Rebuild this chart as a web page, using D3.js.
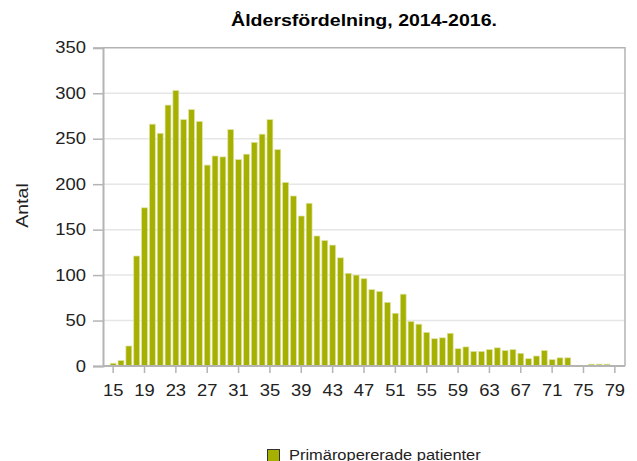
<!DOCTYPE html>
<html>
<head>
<meta charset="utf-8">
<script src="https://cdn.jsdelivr.net/npm/d3@7"></script>
<style>
  html, body { margin: 0; padding: 0; background: #fff; }
  svg { display: block; font-family: "Liberation Sans", Arial, sans-serif; }
</style>
</head>
<body>
<svg id="chart" width="637" height="461"></svg>
<script>
// ---- data ----
const title = "Åldersfördelning, 2014-2016.";
const yAxisLabel = "Antal";
const seriesName = "Primäropererade patienter";
const ages = [15,16,17,18,19,20,21,22,23,24,25,26,27,28,29,30,31,32,33,34,35,36,37,38,39,40,41,42,43,44,45,46,47,48,49,50,51,52,53,54,55,56,57,58,59,60,61,62,63,64,65,66,67,68,69,70,71,72,73,74,75,76,77,78,79];
const counts = [3,6,22,121,174,266,256,287,303,271,282,269,221,231,230,260,227,233,246,255,271,238,202,187,165,179,143,138,133,119,102,100,96,84,82,70,58,79,49,46,37,30,31,36,19,21,16,16,18,20,17,18,14,8,11,17,7,9,9,0,0,2,2,2,0];
const xTickAges = [15,19,23,27,31,35,39,43,47,51,55,59,63,67,71,75,79];
const yTicks = [0,50,100,150,200,250,300,350];

// ---- styles ----
const barColor = "#a6b000";
const barEdge = "#dfe3a4";
const frameColor = "#b4b4b4";
const gridColor = "#e6e6e6";
const textColor = "#222";
const sx = 1.15; // horizontal text widening

const svg = d3.select("#chart");
const m = { left: 103, right: 625, top: 47.8, bottom: 366 };

const x = d3.scaleBand().domain(ages).range([m.left, m.right])
  .paddingInner(0.25).paddingOuter(0.92);
const y = d3.scaleLinear().domain([0, 350]).range([m.bottom, m.top]);

// gridlines
svg.append("g").selectAll("line").data(yTicks.filter(d => d > 0 && d < 350)).join("line")
  .attr("x1", m.left).attr("x2", m.right)
  .attr("y1", d => y(d)).attr("y2", d => y(d))
  .attr("stroke", gridColor).attr("stroke-width", 1.5);

// frame top/right
svg.append("path")
  .attr("d", `M${m.left},${y(350)}H${m.right}V${m.bottom}`)
  .attr("fill", "none").attr("stroke", frameColor).attr("stroke-width", 1.5);

// bars
svg.append("g").selectAll("rect").data(ages.map((a, i) => ({ a, v: counts[i] })).filter(d => d.v > 0)).join("rect")
  .attr("x", d => x(d.a)).attr("width", x.bandwidth())
  .attr("y", d => y(d.v)).attr("height", d => y(0) - y(d.v))
  .attr("fill", barColor).attr("stroke", barEdge).attr("stroke-width", 0.7);

// y axis
const yAxis = svg.append("g").attr("transform", `translate(${m.left},0)`)
  .call(d3.axisLeft(y).tickValues(yTicks).tickSize(10).tickPadding(7));
yAxis.select(".domain").attr("stroke", frameColor).attr("stroke-width", 2);
yAxis.selectAll(".tick line").attr("stroke", frameColor).attr("stroke-width", 1.5);
yAxis.selectAll(".tick text").each(function() {
  const t = d3.select(this);
  const xx = +t.attr("x");
  t.attr("x", 0).attr("transform", `translate(${xx},0) scale(${sx},1)`);
}).attr("font-size", 16).attr("fill", textColor).attr("font-family", "Liberation Sans, Arial, sans-serif");

// x axis
const xAxis = svg.append("g").attr("transform", `translate(0,${m.bottom})`)
  .call(d3.axisBottom(x).tickValues(xTickAges).tickSize(7).tickPadding(5).tickSizeOuter(0));
xAxis.select(".domain").attr("stroke", frameColor).attr("stroke-width", 2)
  .attr("d", `M${m.left},0H${m.right}`);
xAxis.selectAll(".tick line").attr("stroke", frameColor).attr("stroke-width", 1.5);
xAxis.selectAll(".tick text").each(function() {
  const t = d3.select(this);
  const yy = +t.attr("y");
  t.attr("y", 0).attr("dy", null).attr("transform", `translate(0,30) scale(${sx},1)`);
}).attr("font-size", 16).attr("fill", textColor).attr("font-family", "Liberation Sans, Arial, sans-serif");

// title
svg.append("text")
  .attr("transform", `translate(${(m.left + m.right) / 2},26) scale(${sx},1)`)
  .attr("text-anchor", "middle").attr("font-weight", "bold").attr("font-size", 17)
  .attr("fill", "#000").text(title);

// y label
svg.append("text")
  .attr("transform", `translate(28,205.5) rotate(-90) scale(${sx},1)`)
  .attr("text-anchor", "middle").attr("font-size", 17).attr("fill", textColor)
  .text(yAxisLabel);

// legend
const lg = svg.append("g").attr("transform", "translate(267,449)");
lg.append("rect").attr("x", 0.5).attr("y", 0.5).attr("width", 12).attr("height", 12)
  .attr("fill", barColor).attr("stroke", "#333").attr("stroke-width", 1);
lg.append("text").attr("transform", `translate(22,10.6) scale(${sx},1)`)
  .attr("font-size", 14.3).attr("fill", textColor).text(seriesName);
</script>
</body>
</html>
